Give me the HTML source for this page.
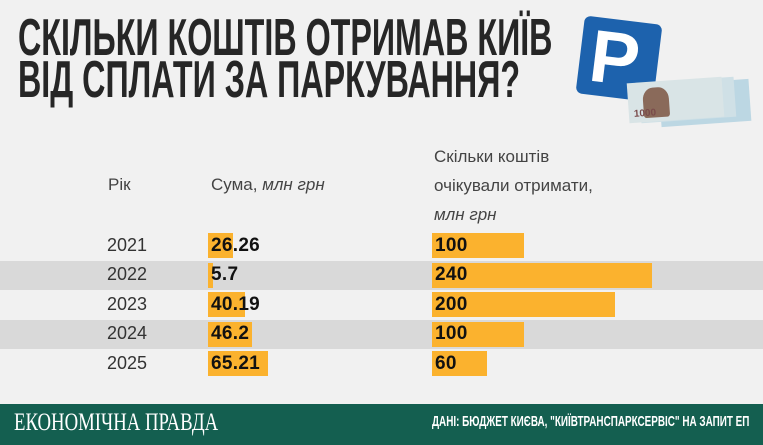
<!DOCTYPE html>
<html><head><meta charset="utf-8"><style>
*{margin:0;padding:0;box-sizing:border-box}
body{width:763px;height:445px;background:#f1f1f1;position:relative;overflow:hidden;font-family:"Liberation Sans","DejaVu Sans",sans-serif;color:#3a3a3a}
.t{position:absolute;font-family:"Liberation Sans",sans-serif;font-weight:bold;font-size:52px;color:#262626;transform-origin:0 0;white-space:nowrap;line-height:1}
.a{position:absolute;white-space:nowrap}
.band{position:absolute;left:0;width:763px;height:29px;background:#d9d9d9}
.bar{position:absolute;background:#fbb22e;height:25px}
.yr{position:absolute;left:107px;font-size:18px;color:#333}
.v{position:absolute;font-size:19px;font-weight:bold;color:#111;letter-spacing:0.3px}
.h{position:absolute;font-size:17px;color:#444}
</style></head><body>
<div class="t" style="left:18px;top:12px;transform:scaleX(0.62)">СКІЛЬКИ КОШТІВ ОТРИМАВ КИЇВ</div>
<div class="t" style="left:18px;top:54px;transform:scaleX(0.62)">ВІД СПЛАТИ ЗА ПАРКУВАННЯ?</div>
<div style="position:absolute;left:580px;top:20px;width:78px;height:78px;background:#1d62ad;border-radius:6px;transform:rotate(7deg)">
<div style="position:absolute;left:10px;top:-4px;color:#fff;font-size:74px;font-weight:bold;font-family:'Liberation Sans',sans-serif">P</div></div>
<div style="position:absolute;left:660px;top:82px;width:90px;height:42px;background:#bcd7e3;transform:rotate(-4deg)"></div>
<div style="position:absolute;left:640px;top:80px;width:95px;height:40px;background:#cfe0e6;transform:rotate(-4deg)"></div>
<div style="position:absolute;left:628px;top:80px;width:95px;height:40px;background:#d9e4e6;transform:rotate(-4deg)">
<div style="position:absolute;left:15px;top:6px;width:26px;height:30px;background:#8a6a5a;border-radius:40% 40% 10% 10%"></div>
<div style="position:absolute;left:5px;top:26px;font-size:10px;font-weight:bold;color:#7a4b4b">1000</div></div>
<div class="h" style="left:108px;top:175px">Рік</div>
<div class="h" style="left:211px;top:175px">Сума, <i>млн грн</i></div>
<div class="h" style="left:434px;top:147px">Скільки коштів</div>
<div class="h" style="left:434px;top:176px">очікували отримати,</div>
<div class="h" style="left:434px;top:205px"><i>млн грн</i></div>
<div class="band" style="top:261px"></div>
<div class="band" style="top:320px"></div>
<div class="bar" style="left:208px;top:233px;width:25px"></div>
<div class="bar" style="left:208px;top:263px;width:5px"></div>
<div class="bar" style="left:208px;top:292px;width:37px"></div>
<div class="bar" style="left:208px;top:322px;width:44px"></div>
<div class="bar" style="left:208px;top:351px;width:60px"></div>
<div class="bar" style="left:432px;top:233px;width:92px"></div>
<div class="bar" style="left:432px;top:263px;width:220px"></div>
<div class="bar" style="left:432px;top:292px;width:183px"></div>
<div class="bar" style="left:432px;top:322px;width:92px"></div>
<div class="bar" style="left:432px;top:351px;width:55px"></div>
<div class="yr" style="top:235px">2021</div>
<div class="yr" style="top:264px">2022</div>
<div class="yr" style="top:294px">2023</div>
<div class="yr" style="top:323px">2024</div>
<div class="yr" style="top:353px">2025</div>
<div class="v" style="left:211px;top:235px">26.26</div>
<div class="v" style="left:211px;top:264px">5.7</div>
<div class="v" style="left:211px;top:294px">40.19</div>
<div class="v" style="left:211px;top:323px">46.2</div>
<div class="v" style="left:211px;top:353px">65.21</div>
<div class="v" style="left:435px;top:235px">100</div>
<div class="v" style="left:435px;top:264px">240</div>
<div class="v" style="left:435px;top:294px">200</div>
<div class="v" style="left:435px;top:323px">100</div>
<div class="v" style="left:435px;top:353px">60</div>
<div style="position:absolute;left:0;top:404px;width:763px;height:41px;background:#145f50"></div>
<div class="a" style="left:14px;top:409px;color:#fff;font-family:'Liberation Serif',serif;font-size:25px;transform:scaleX(0.75);transform-origin:0 0">ЕКОНОМІЧНА ПРАВДА</div>
<div class="a" style="left:432px;top:413px;color:#fff;font-family:'Liberation Sans',sans-serif;font-weight:bold;font-size:15px;transform:scaleX(0.66);transform-origin:0 0">ДАНІ: БЮДЖЕТ КИЄВА, "КИЇВТРАНСПАРКСЕРВІС" НА ЗАПИТ ЕП</div>
</body></html>
